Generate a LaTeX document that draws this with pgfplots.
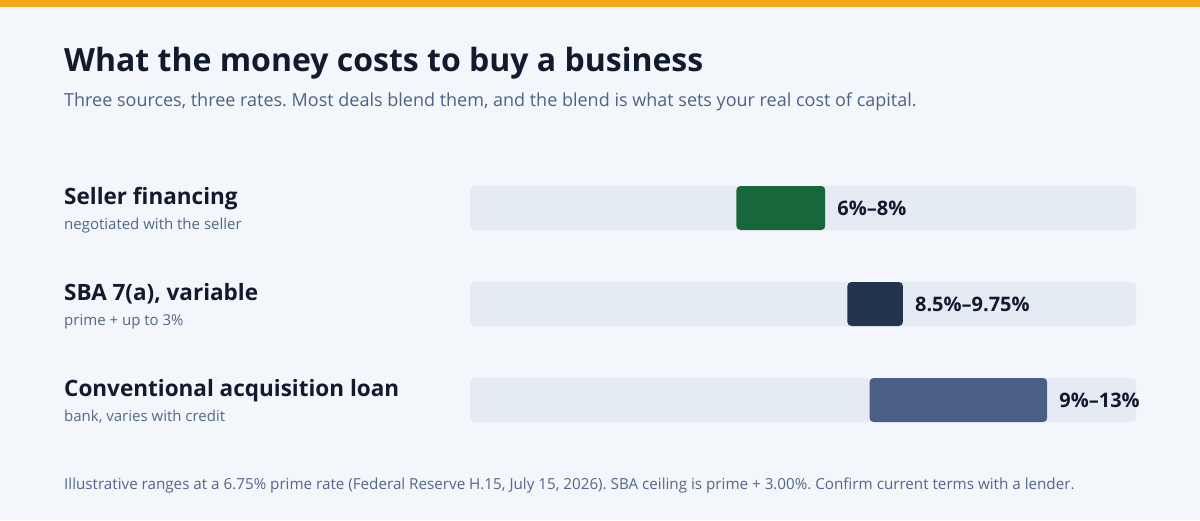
\documentclass[border=0pt]{standalone}
\usepackage{pgfplots}
\pgfplotsset{compat=1.18}
\usepackage{fontspec}
\setmainfont{Open Sans}
\frenchspacing
\definecolor{bg}{HTML}{F3F6FA}
\definecolor{topbar}{HTML}{F6A81B}
\definecolor{track}{HTML}{E4EBF3}
\definecolor{cgreen}{HTML}{18663C}
\definecolor{cnavy}{HTML}{23344E}
\definecolor{cslate}{HTML}{4B5E86}
\definecolor{ink}{HTML}{111B2D}
\definecolor{sub}{HTML}{4E6287}
\definecolor{subl}{HTML}{53678A}

\begin{document}
\begin{tikzpicture}
\fill[bg] (0pt,0pt) rectangle (1200pt,-520pt);
\fill[topbar] (0pt,0pt) rectangle (1200pt,-7pt);
\node[anchor=base west, inner sep=0, text=ink, font=\fontsize{32}{38}\selectfont\bfseries] at (64pt,-71pt) {What the money costs to buy a business};
\node[anchor=base west, inner sep=0, text=sub, font=\fontsize{18}{22}\selectfont] at (64pt,-106pt) {Three sources, three rates. Most deals blend them, and the blend is what sets your real cost of capital.};
% row labels
\node[anchor=base west, inner sep=0, text=ink, font=\fontsize{22.5}{27}\selectfont\bfseries] at (64pt,-204pt) {Seller financing};
\node[anchor=base west, inner sep=0, text=subl, font=\fontsize{15}{18}\selectfont] at (64pt,-229pt) {negotiated with the seller};
\node[anchor=base west, inner sep=0, text=ink, font=\fontsize{22.5}{27}\selectfont\bfseries] at (64pt,-300pt) {SBA 7(a), variable};
\node[anchor=base west, inner sep=0, text=subl, font=\fontsize{15}{18}\selectfont] at (64pt,-325pt) {prime + up to 3\%};
\node[anchor=base west, inner sep=0, text=ink, font=\fontsize{22.5}{27}\selectfont\bfseries] at (64pt,-396pt) {Conventional acquisition loan};
\node[anchor=base west, inner sep=0, text=subl, font=\fontsize{15}{18}\selectfont] at (64pt,-421pt) {bank, varies with credit};
% footer
\node[anchor=base west, inner sep=0, text=subl, font=\fontsize{15.2}{18}\selectfont] at (64pt,-489pt) {Illustrative ranges at a 6.75\% prime rate (Federal Reserve H.15, July 15, 2026). SBA ceiling is prime + 3.00\%. Confirm current terms with a lender.};

\pgfplotsset{rowaxis/.style={at={(470pt,-160pt)}, anchor=north west, scale only axis,
  width=666pt, height=288pt, xmin=0, xmax=15, ymin=-0.5, ymax=2.5, y dir=reverse,
  hide axis, clip=false, bar width=44pt}}
\begin{axis}[rowaxis, xbar]
\addplot[fill=track, draw=none, rounded corners=4pt] coordinates {(15,0) (15,1) (15,2)};
\end{axis}
\begin{axis}[rowaxis, xbar stacked, stacked ignores zero]
\addplot[draw=none, fill=none] coordinates {(6,0) (8.5,1) (9,2)};
\addplot[fill=cgreen, draw=none, rounded corners=4pt] coordinates {(2,0) (0,1) (0,2)};
\addplot[fill=cnavy, draw=none, rounded corners=4pt] coordinates {(0,0) (1.25,1) (0,2)};
\addplot[fill=cslate, draw=none, rounded corners=4pt] coordinates {(0,0) (0,1) (4,2)};
\node[anchor=base west, inner sep=0, xshift=12pt, yshift=-7pt, text=ink, font=\fontsize{20}{24}\selectfont\bfseries] at (axis cs:8,0) {6\%–8\%};
\node[anchor=base west, inner sep=0, xshift=12pt, yshift=-7pt, text=ink, font=\fontsize{20}{24}\selectfont\bfseries] at (axis cs:9.75,1) {8.5\%–9.75\%};
\node[anchor=base west, inner sep=0, xshift=12pt, yshift=-7pt, text=ink, font=\fontsize{20}{24}\selectfont\bfseries] at (axis cs:13,2) {9\%–13\%};
\end{axis}
\pgfresetboundingbox
\path (0pt,0pt) rectangle (1200pt,-520pt);
\end{tikzpicture}
\end{document}
